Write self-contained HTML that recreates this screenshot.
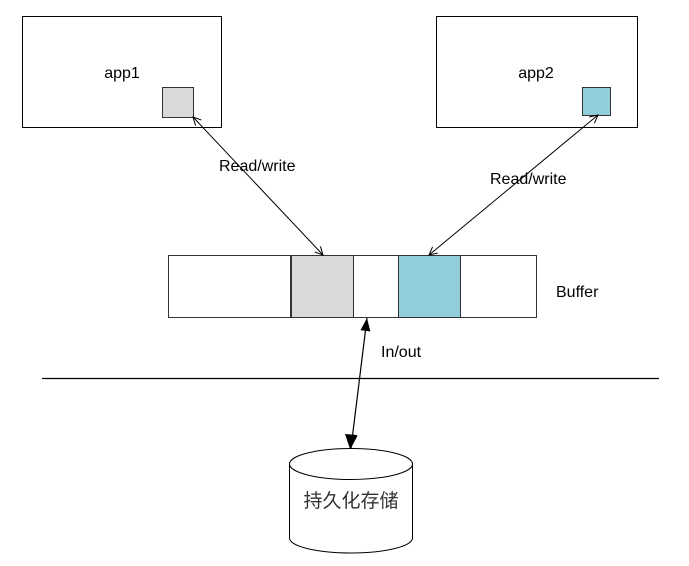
<!DOCTYPE html>
<html><head><meta charset="utf-8"><style>
html,body{margin:0;padding:0;background:#fff}
svg text{font-family:"Liberation Sans","Noto Sans CJK SC",sans-serif;font-size:16px;fill:#000}
</style></head><body>
<svg width="689" height="561" viewBox="0 0 689 561">
<defs>
<marker id="open" markerWidth="10" markerHeight="10" refX="9" refY="5" orient="auto-start-reverse" markerUnits="userSpaceOnUse"><path d="M1,1 L9,5 L1,9" fill="none" stroke="#000" stroke-width="1"/></marker>
<marker id="fill" markerWidth="14" markerHeight="14" refX="13" refY="7" orient="auto-start-reverse" markerUnits="userSpaceOnUse"><path d="M0,2 L13,7 L0,12 Z" fill="#000"/></marker>
</defs>
<g>
<rect x="22.5" y="16.5" width="199" height="111" fill="#fff" stroke="#000"/>
<text x="122" y="78" text-anchor="middle">app1</text>
<rect x="162.5" y="87.5" width="31" height="30" fill="#d9d9d9" stroke="#333"/>
</g>
<g>
<rect x="436.5" y="16.5" width="201" height="111" fill="#fff" stroke="#000"/>
<text x="536" y="78" text-anchor="middle">app2</text>
<rect x="582.5" y="87.5" width="28" height="28" fill="#92cddc" stroke="#333"/>
</g>
<g>
<rect x="168.5" y="255.5" width="122" height="62" fill="#fff" stroke="#333"/>
<rect x="291.5" y="255.5" width="62" height="62" fill="#d9d9d9" stroke="#333"/>
<rect x="353.5" y="255.5" width="45" height="62" fill="#fff" stroke="#333"/>
<rect x="398.5" y="255.5" width="62" height="62" fill="#92cddc" stroke="#333"/>
<rect x="460.5" y="255.5" width="76" height="62" fill="#fff" stroke="#333"/>
<text x="556" y="297">Buffer</text>
</g>
<line x1="193" y1="117" x2="323" y2="255" stroke="#000" marker-start="url(#open)" marker-end="url(#open)"/>
<line x1="598" y1="115" x2="429" y2="255" stroke="#000" marker-start="url(#open)" marker-end="url(#open)"/>
<text x="219" y="171">Read/write</text>
<text x="490" y="184">Read/write</text>
<line x1="42" y1="378.5" x2="659" y2="378.5" stroke="#000" stroke-width="1.2"/>
<line x1="351" y1="448" x2="367" y2="318" stroke="#000" stroke-width="1.2" marker-start="url(#fill)" marker-end="url(#fill)"/>
<text x="381" y="357">In/out</text>
<g>
<path d="M289.5,464 L289.5,538 A61.5,15 0 0 0 412.5,538 L412.5,464" fill="#fff" stroke="#000"/>
<ellipse cx="351" cy="464" rx="61.5" ry="15.5" fill="#fff" stroke="#000"/>
<text x="351" y="507" text-anchor="middle" style="font-size:19px;fill:#333">持久化存储</text>
</g>
<line x1="351" y1="448" x2="352" y2="440" stroke="#000"/>
<path d="M345,434 L357,435 L350,449 Z" fill="#000"/>
</svg>
</body></html>
